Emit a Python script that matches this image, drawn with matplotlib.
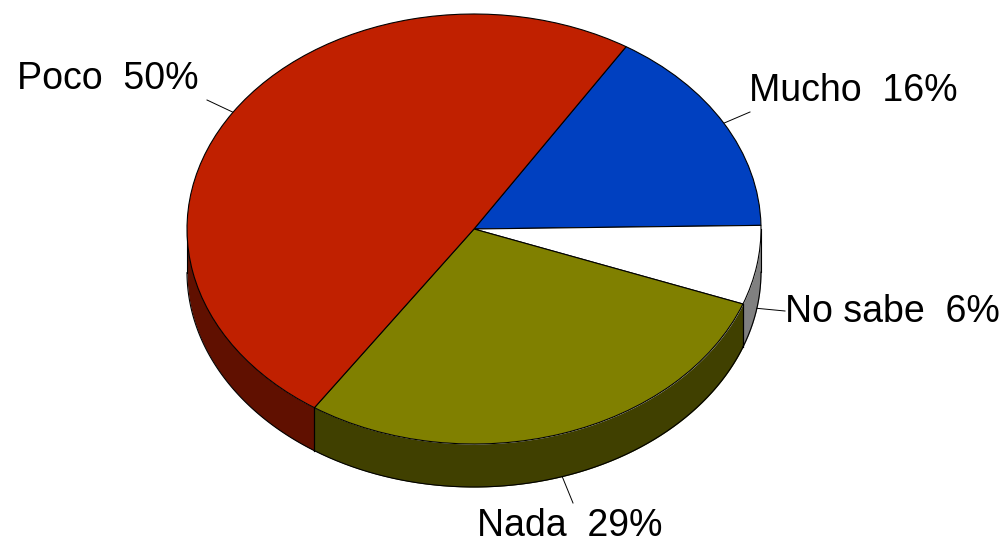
import numpy as np
import matplotlib
matplotlib.use("Agg")
import matplotlib.pyplot as plt

labels = ["Mucho", "No sabe", "Nada", "Poco"]
values = [16, 6, 29, 50]
top_colors = ["#0040C0", "#FFFFFF", "#808000", "#C02000"]
wall_colors = ["#002060", "#808080", "#404000", "#601000"]
label_pos = [(749, 101), (785, 322), (477, 536), (17, 89)]
leader_end = [(750, 112), (785, 311), (573, 503), (207, 100)]

W, H = 1006, 543
cx, cy = 474, 229
rx, ry = 287, 215
depth = 43 / ry
start = 58

plt.rcParams['font.family'] = ['Liberation Sans', 'DejaVu Sans']


def px(x, y):
	# pixel position in the picture -> pie units
	return (x - cx) / rx, (cy - y) / ry


fig = plt.figure(figsize=(W / 100, H / 100), dpi=100)
ax = fig.add_axes([0, 0, 1, 1])

ax.pie(values, colors=top_colors, startangle=start, counterclock=False,
	wedgeprops={"edgecolor": "black", "linewidth": 0.8, "zorder": 3})
ax.set_aspect("auto")
ax.set_xlim(px(0, 0)[0], px(W, 0)[0])
ax.set_ylim(px(0, H)[1], px(0, 0)[1])
ax.axis("off")

# side wall, only the front half of the disc shows
fracs = np.array(values) / sum(values)
edges = start - 360 * np.concatenate(([0], np.cumsum(fracs)))
for i in range(len(values)):
	hi, lo = edges[i], edges[i + 1]
	a = np.linspace(lo, hi, 300)
	a = a[np.sin(np.radians(a)) <= 0]
	if len(a) > 0:
		x = np.cos(np.radians(a))
		y = np.sin(np.radians(a))
		ax.fill_between(x, y - depth, y, color=wall_colors[i], linewidth=0, zorder=1)
		ax.plot(x, y - depth, color="black", lw=0.8, zorder=2)
		for k in (0, -1):
			ax.plot([x[k], x[k]], [y[k], y[k] - depth], color="black", lw=0.8, zorder=2)

	# leader line and label
	mid = np.radians((hi + lo) / 2)
	x0, y0 = np.cos(mid), np.sin(mid)
	if y0 < 0:
		y0 = y0 - depth
	x1, y1 = px(*leader_end[i])
	ax.plot([x0, x1], [y0, y1], color="black", lw=0.7, zorder=2)
	tx, ty = px(*label_pos[i])
	ax.text(tx, ty, f"{labels[i]}  {values[i]}%", fontsize=27, color="black",
		ha="left", va="baseline", zorder=5)

fig.savefig("out.png", dpi=100, facecolor="white")
